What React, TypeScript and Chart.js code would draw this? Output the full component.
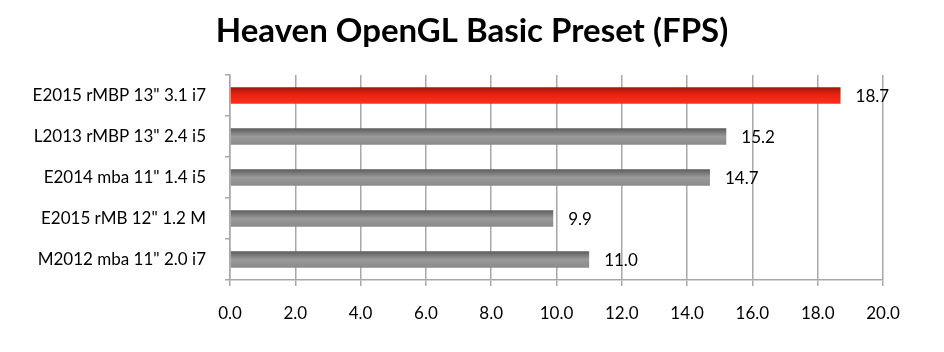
import React, { useEffect, useRef } from "react";
import { Chart, registerables } from "chart.js";

Chart.register(...registerables);

const categories = [
  'E2015 rMBP 13" 3.1 i7',
  'L2013 rMBP 13" 2.4 i5',
  'E2014 mba 11" 1.4 i5',
  'E2015 rMB 12" 1.2 M',
  'M2012 mba 11" 2.0 i7',
];
const fpsValues = [18.7, 15.2, 14.7, 9.9, 11.0];
const highlighted = [true, false, false, false, false];
const xTicks = [0, 2, 4, 6, 8, 10, 12, 14, 16, 18, 20];
const titleText = "Heaven OpenGL Basic Preset (FPS)";

const FONT = "Lato, 'Open Sans', sans-serif";

export default function App() {
  const ref = useRef<HTMLCanvasElement>(null);

  useEffect(() => {
    document.body.style.margin = "0";
    const canvas = ref.current!;
    const barPct = 0.4;

    const gradientFor = (c: any) => {
      const chart = c.chart;
      const y = chart.scales?.y;
      const area = chart.chartArea;
      const hi = highlighted[c.dataIndex];
      if (!y || !area) return hi ? "#e8200f" : "#8a8a8a";
      const center = y.getPixelForValue(c.dataIndex);
      const band = (area.bottom - area.top) / categories.length;
      const h = band * barPct;
      const g = chart.ctx.createLinearGradient(0, center - h / 2, 0, center + h / 2);
      if (hi) {
        g.addColorStop(0, "#a0160c");
        g.addColorStop(0.45, "#e8220f");
        g.addColorStop(1, "#ff3020");
      } else {
        g.addColorStop(0, "#5c5c5c");
        g.addColorStop(0.5, "#9a9a9a");
        g.addColorStop(1, "#8a8a8a");
      }
      return g;
    };

    const valueLabels = {
      id: "valueLabels",
      afterDatasetsDraw(chart: any) {
        const ctx = chart.ctx;
        const meta = chart.getDatasetMeta(0);
        ctx.save();
        ctx.font = `17px ${FONT}`;
        ctx.fillStyle = "#000";
        ctx.textAlign = "left";
        ctx.textBaseline = "middle";
        meta.data.forEach((el: any, i: number) => {
          ctx.fillText(fpsValues[i].toFixed(1), el.x + 15, el.y + 1);
        });
        ctx.restore();
      },
    };

    const centeredTitle = {
      id: "centeredTitle",
      afterDraw(chart: any) {
        const ctx = chart.ctx;
        ctx.save();
        ctx.font = `bold 33px ${FONT}`;
        ctx.fillStyle = "#000";
        ctx.textAlign = "center";
        ctx.textBaseline = "alphabetic";
        ctx.fillText(titleText, chart.width / 2, 42);
        ctx.restore();
      },
    };

    const chart = new Chart(canvas, {
      type: "bar",
      data: {
        labels: categories,
        datasets: [
          {
            data: fpsValues,
            backgroundColor: gradientFor,
            borderWidth: 0,
            barPercentage: barPct,
            categoryPercentage: 1,
          },
        ],
      },
      options: {
        indexAxis: "y",
        animation: false,
        responsive: false,
        maintainAspectRatio: false,
        layout: { padding: { left: 0, right: 61, top: 75, bottom: 0 } },
        plugins: {
          legend: { display: false },
          tooltip: { enabled: false },
          title: { display: false },
        },
        scales: {
          x: {
            min: 0,
            max: 20,
            afterBuildTicks(scale: any) {
              scale.ticks = xTicks.map((v) => ({ value: v }));
            },
            afterFit(scale: any) {
              scale.height = 72;
            },
            ticks: {
              color: "#000",
              font: { family: FONT, size: 17 },
              padding: 17,
              callback: (v: any) => Number(v).toFixed(1),
            },
            grid: { color: "#a8a8a8", lineWidth: 1.5, tickLength: 6 },
            border: { color: "#a8a8a8", width: 1.5 },
          },
          y: {
            afterFit(scale: any) {
              scale.width = 230;
            },
            ticks: {
              color: "#000",
              font: { family: FONT, size: 17 },
              padding: 19,
            },
            grid: {
              offset: true,
              drawOnChartArea: false,
              color: "#a8a8a8",
              lineWidth: 1.5,
              tickLength: 5,
            },
            border: { color: "#a8a8a8", width: 1.5 },
          },
        },
      },
      plugins: [valueLabels, centeredTitle],
    });
    return () => chart.destroy();
  }, []);

  return <canvas ref={ref} width={944} height={352} style={{ display: "block" }} />;
}
